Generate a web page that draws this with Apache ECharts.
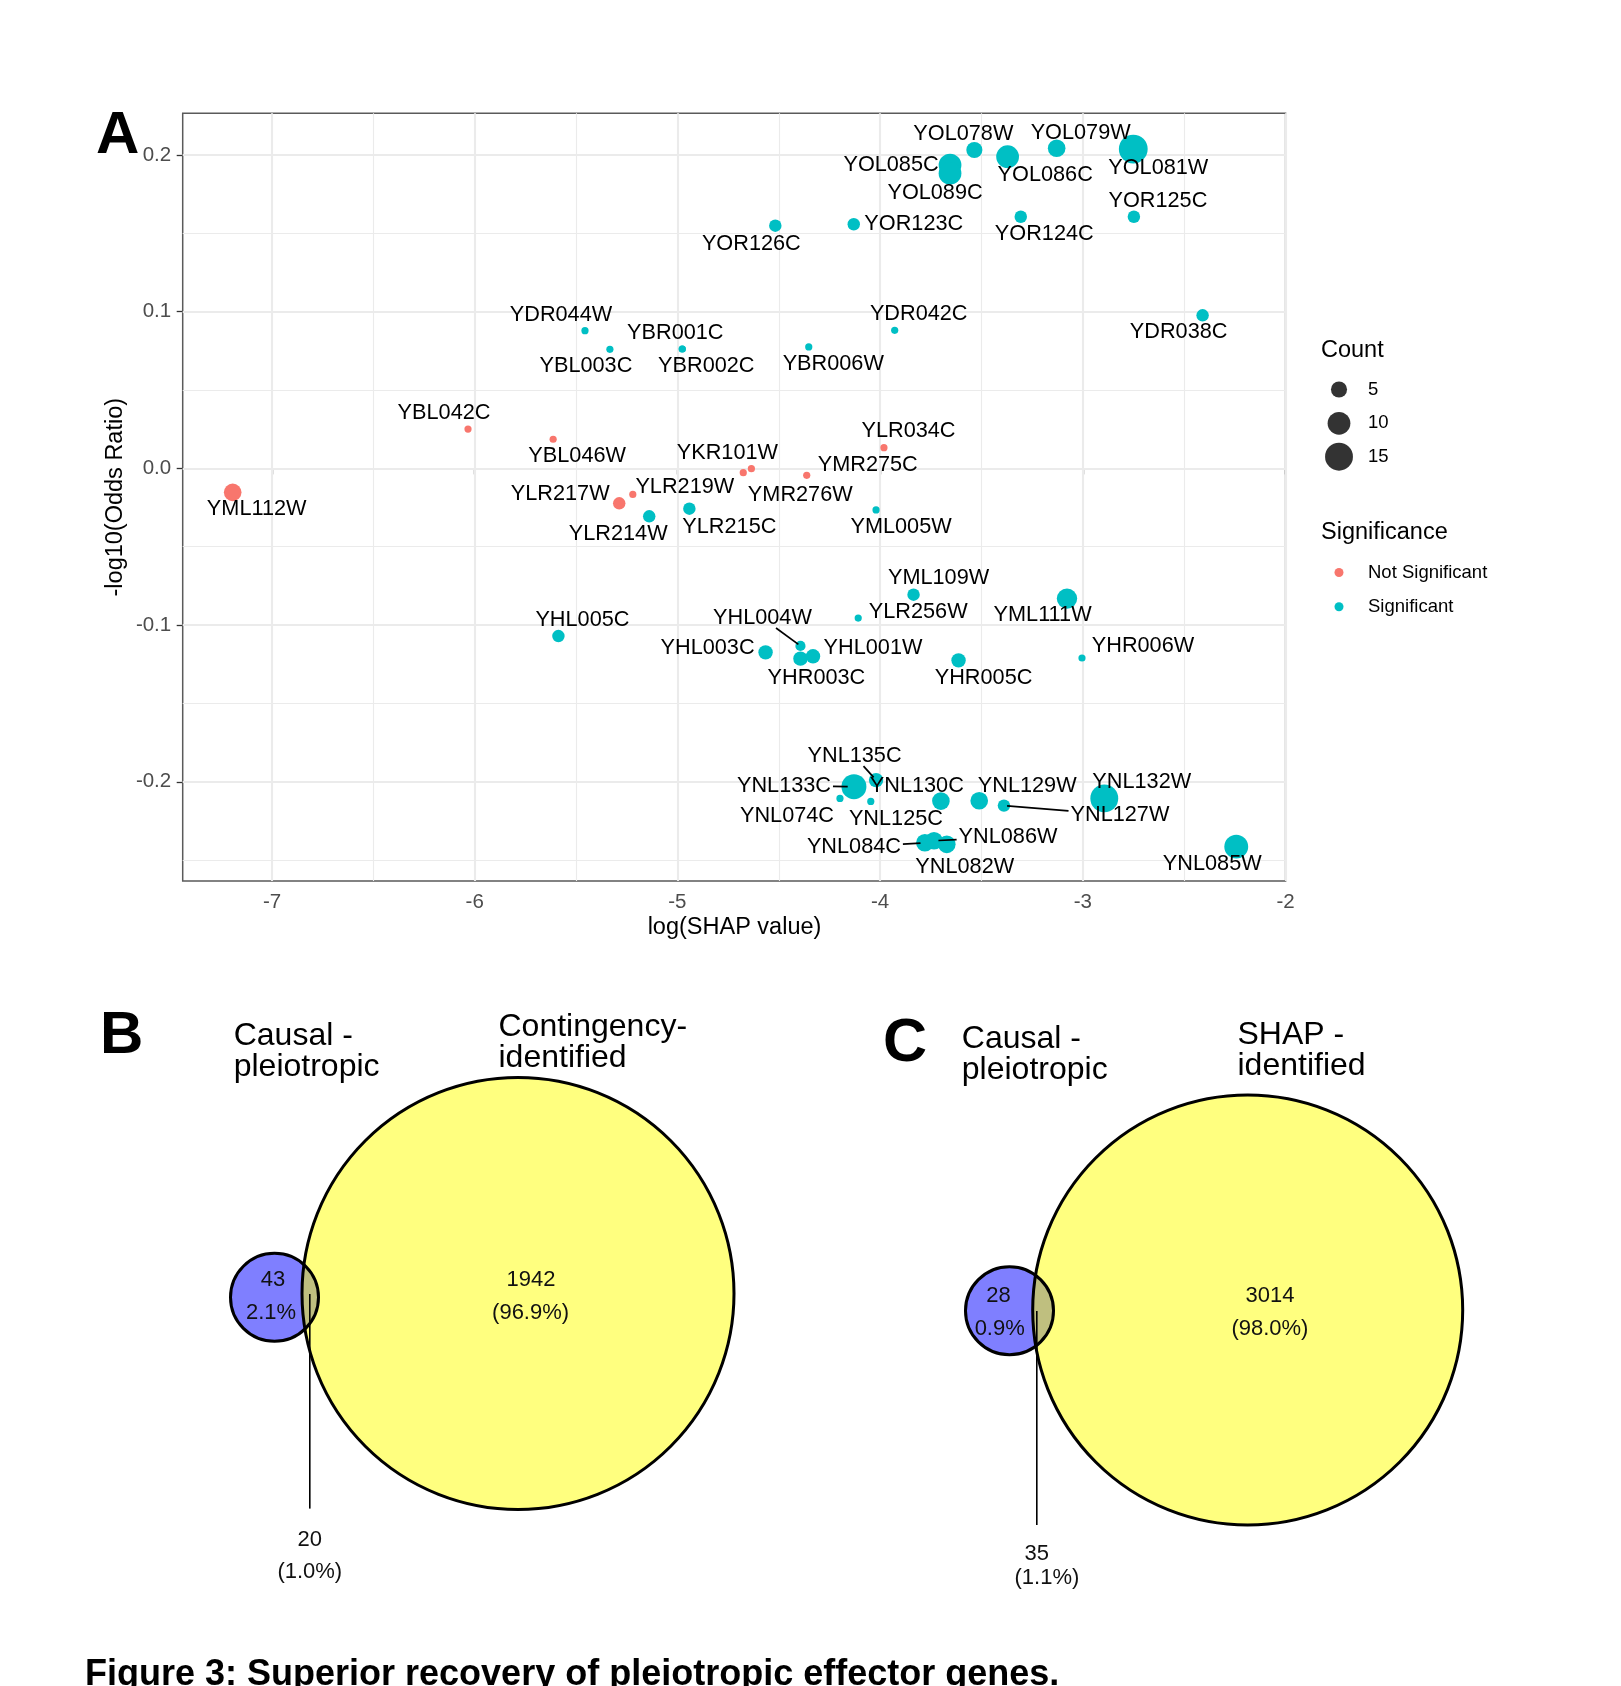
<!DOCTYPE html>
<html>
<head>
<meta charset="utf-8">
<script src="https://cdn.jsdelivr.net/npm/echarts@6/dist/echarts.min.js"></script>
<style>
html,body{margin:0;padding:0;background:#fff;}
#chart{width:1621px;height:1686px;}
</style>
</head>
<body>
<div id="chart"></div>
<script>
// ---------------- DATA ----------------
const genes = ['YML112W','YBL042C','YBL046W','YLR217W','YLR219W','YKR101W','YMR276W','YMR275C','YLR034C',
  'YDR044W','YBL003C','YBR001C','YBR002C','YBR006W','YDR042C','YDR038C',
  'YOR126C','YOR123C','YOL085C','YOL089C','YOL078W','YOL086C','YOL079W','YOL081W','YOR124C','YOR125C',
  'YLR214W','YLR215C','YML005W',
  'YHL005C','YHL003C','YHL004W','YHR003C','YHL001W','YHR005C','YHR006W','YML109W','YLR256W','YML111W',
  'YNL133C','YNL135C','YNL130C','YNL074C','YNL125C','YNL129W','YNL127W','YNL132W','YNL084C','YNL086W','YNL082W','YNL085W'];
const shapLog = [-7.194,-6.033,-5.613,-5.287,-5.220,-4.635,-4.675,-4.362,-3.981,
  -5.456,-5.333,-4.976,-4.976,-4.352,-3.928,-2.409,
  -4.517,-4.130,-3.655,-3.655,-3.535,-3.371,-3.129,-2.751,-3.306,-2.748,
  -5.139,-4.941,-4.020,
  -5.587,-4.565,-4.393,-4.393,-4.331,-3.613,-3.004,-3.835,-4.108,-3.078,
  -4.129,-4.020,-4.046,-4.198,-3.700,-3.511,-3.389,-2.894,-3.779,-3.734,-3.671,-2.243];
const negLog10OR = [-0.0153,0.0251,0.0186,-0.0223,-0.0166,-0.0002,-0.0027,-0.0044,0.0132,
  0.0879,0.0760,0.0762,0.0762,0.0775,0.0881,0.0977,
  0.1549,0.1558,0.1936,0.1883,0.2032,0.1989,0.2043,0.2038,0.1606,0.1606,
  -0.0306,-0.0257,-0.0265,
  -0.1070,-0.1174,-0.1133,-0.1214,-0.1199,-0.1225,-0.1210,-0.0806,-0.0955,-0.0831,
  -0.2031,-0.1989,-0.2125,-0.2106,-0.2123,-0.2121,-0.2152,-0.2106,-0.2389,-0.2376,-0.2399,-0.2414];
const counts = [6,1,1,3,1,1,1,1,1,
  1,1,1,1,1,1,3,
  3,3,10,10,5,10,6,16,3,3,
  3,3,1,
  3,4,2,4,4,4,1,3,1,8,
  12,4,1,1,6,6,3,15,6,6,6,11];
const significant = [0,0,0,0,0,0,0,0,0,
  1,1,1,1,1,1,1, 1,1,1,1,1,1,1,1,1,1, 1,1,1, 1,1,1,1,1,1,1,1,1,1,
  1,1,1,1,1,1,1,1,1,1,1,1];
const xTicks = [-7,-6,-5,-4,-3,-2];
const yTicks = [-0.2,-0.1,0,0.1,0.2];
const sizeBreaks = [5,10,15];
const sigLevels = ['Not Significant','Significant'];

const vennBSets = ['Causal -\npleiotropic','Contingency-\nidentified'];
const vennBCounts = [43, 20, 1942];          // left only, overlap, right only
const vennBPct = ['2.1%', '1.0%', '96.9%'];
const vennCSets = ['Causal -\npleiotropic','SHAP -\nidentified'];
const vennCCounts = [28, 35, 3014];
const vennCPct = ['0.9%', '1.1%', '98.0%'];

// ---------------- LAYOUT / STYLE ----------------
const FONT = '"Liberation Sans", Arial, Helvetica, sans-serif';
const LABEL_FONT = '21.7px ' + FONT;
const COLORS = {'Not Significant':'#F8766D','Significant':'#00BFC4'};
const sizeOf = c => 7.2 * Math.sqrt(c);

// label offsets (px) relative to point, ggrepel-like placement
const labelOffsets = {
  YML112W:[24,17], YBL042C:[-24,-16], YBL046W:[24,17], YLR217W:[-59,-9], YLR219W:[52,-7],
  YKR101W:[-24,-16], YMR276W:[57,22], YMR275C:[61,-10], YLR034C:[24.5,-16.4],
  YDR044W:[-24,-16], YBL003C:[-24,17], YBR001C:[-7,-16], YBR002C:[24,17], YBR006W:[24.5,17],
  YDR042C:[24,-16.5], YDR038C:[-24,17],
  YOR126C:[-24,18], YOR123C:[60,0], YOL085C:[-59,0], YOL089C:[-15,20], YOL078W:[-11,-16],
  YOL086C:[37.6,18.3], YOL079W:[24,-15.5], YOL081W:[25,18.5], YOR124C:[23.5,17.5], YOR125C:[24,-15.5],
  YLR214W:[-31,18], YLR215C:[40,18], YML005W:[25,17.5],
  YHL005C:[24,-16], YHL003C:[-58,-4], YHL004W:[-38,-28], YHR003C:[16,19.6], YHL001W:[60,-8],
  YHR005C:[25,18], YHR006W:[61,-12], YML109W:[25,-16.4], YLR256W:[60,-6], YML111W:[-24.4,16.6],
  YNL133C:[-70,-1], YNL135C:[-21.5,-24], YNL130C:[46,-15.5], YNL074C:[-53,17.5], YNL125C:[-45,18],
  YNL129W:[48,-15], YNL127W:[116,9.6], YNL132W:[37.5,-16], YNL084C:[-71,4.3], YNL086W:[74,-3.7],
  YNL082W:[18,23], YNL085W:[-24,17.5]
};
const segmentLabels = new Set(['YHL004W','YNL133C','YNL135C','YNL127W','YNL084C','YNL086W']);

// venn geometry in units of the big circle radius (centre of big circle = 0,0)
const vennLayout = {
  B: {small:[-1.1273,-0.0176,0.2037], big:[0,0,1], leader:[-0.9639,-0.0023,-0.9958],
      left:[-1.1343,0.0625,-1.1435,-0.0889], right:[0.0602,0.0625,0.0583,-0.0889], overlap:[-0.9639,-1.1412,-0.9639,-1.2884]},
  C: {small:[-1.1079,-0.0037,0.2047], big:[0,0,1], leader:[-0.9809,-0.0047,-0.9995],
      left:[-1.1591,0.0674,-1.1535,-0.0884], right:[0.1033,0.0674,0.1033,-0.0884], overlap:[-0.9809,-1.1326,-0.9340,-1.2465]}
};

// ---------------- BUILD ----------------
const mctx = document.createElement('canvas').getContext('2d');
function textW(t, font){ mctx.font = font; return mctx.measureText(t).width; }

const points = genes.map((g,i)=>({name:g, value:[shapLog[i], negLog10OR[i], counts[i]]}));

function scatterSeries(level){
  return {
    name: level, type:'scatter', xAxisIndex:0, yAxisIndex:0, z:3,
    data: points.filter((_,i)=> sigLevels[significant[i]] === level),
    symbol:'circle', symbolSize: v => sizeOf(v[2]),
    itemStyle:{color: COLORS[level], opacity:1},
    emphasis:{disabled:true}, silent:true
  };
}

const midpoints = arr => arr.slice(0,-1).map((v,i)=> (v+arr[i+1])/2);
const minorX = [xTicks[0]-0.5].concat(midpoints(xTicks));
const minorY = [yTicks[0]-0.05].concat(midpoints(yTicks)).concat([yTicks[yTicks.length-1]+0.05]);
const gridLines = []
  .concat(minorX.map(v=>({xAxis:v, lineStyle:{color:'#EBEBEB', width:1.1, type:'solid'}})))
  .concat(minorY.map(v=>({yAxis:v, lineStyle:{color:'#EBEBEB', width:1.1, type:'solid'}})))
  .concat(xTicks.map(v=>({xAxis:v, lineStyle:{color:'#EBEBEB', width:2.1, type:'solid'}})))
  .concat(yTicks.map(v=>({yAxis:v, lineStyle:{color:'#EBEBEB', width:2.1, type:'solid'}})));

const labelSeries = {
  type:'custom', xAxisIndex:0, yAxisIndex:0, z:10, silent:true, clip:false,
  data: genes.map((g,i)=>[shapLog[i], negLog10OR[i], counts[i], i]),
  encode:{x:0, y:1},
  renderItem:(params, api)=>{
    const i = api.value(3);
    const name = genes[i];
    const p = api.coord([api.value(0), api.value(1)]);
    const off = labelOffsets[name] || [0,-15];
    const lx = p[0]+off[0], ly = p[1]+off[1];
    const children = [];
    if (segmentLabels.has(name)) {
      const hw = textW(name, LABEL_FONT)/2 + 2, hh = 10;
      const dx = p[0]-lx, dy = p[1]-ly;
      const t = Math.min(Math.abs(dx) > 1e-6 ? hw/Math.abs(dx) : 1e9, Math.abs(dy) > 1e-6 ? hh/Math.abs(dy) : 1e9);
      const ex = lx + dx*t, ey = ly + dy*t;
      const len = Math.hypot(dx,dy);
      const r = sizeOf(api.value(2))/2*0.5;
      const sx = p[0] - dx/len*r, sy = p[1] - dy/len*r;
      children.push({type:'line', shape:{x1:sx,y1:sy,x2:ex,y2:ey}, style:{stroke:'#000', lineWidth:1.7}});
    }
    children.push({type:'text', style:{text:name, x:lx, y:ly, font:LABEL_FONT, fill:'#000',
      align:'center', verticalAlign:'middle', textAlign:'center', textVerticalAlign:'middle'}});
    return {type:'group', children};
  }
};

function vennSeries(idx, L, cnt, pct){
  return {
    type:'custom', xAxisIndex:idx, yAxisIndex:idx, silent:true, clip:false, z:2,
    data:[[0,0]],
    renderItem:(params, api)=>{
      const circ = (c, style) => {
        const p = api.coord([c[0], c[1]]);
        const r = api.size([c[2], 0])[0];
        return {type:'circle', shape:{cx:p[0], cy:p[1], r}, style};
      };
      const txt = (x, y, s) => {
        const p = api.coord([x, y]);
        return {type:'text', style:{text:s, x:p[0], y:p[1], font:'22px '+FONT, fill:'#111',
          align:'center', verticalAlign:'middle', textAlign:'center', textVerticalAlign:'middle'}};
      };
      const l1 = api.coord([L.leader[0], L.leader[1]]);
      const l2 = api.coord([L.leader[0], L.leader[2]]);
      return {type:'group', children:[
        circ(L.small, {fill:'rgba(0,0,255,0.5)'}),
        circ(L.big, {fill:'rgba(255,255,0,0.5)'}),
        circ(L.small, {fill:null, stroke:'#000', lineWidth:3}),
        circ(L.big, {fill:null, stroke:'#000', lineWidth:3}),
        {type:'line', shape:{x1:l1[0], y1:l1[1], x2:l2[0], y2:l2[1]}, style:{stroke:'#000', lineWidth:1.6}},
        txt(L.left[0], L.left[1], String(cnt[0])),
        txt(L.left[2], L.left[3], pct[0]),
        txt(L.right[0], L.right[1], String(cnt[2])),
        txt(L.right[2], L.right[3], '(' + pct[2] + ')'),
        txt(L.overlap[0], L.overlap[1], String(cnt[1])),
        txt(L.overlap[2], L.overlap[3], '(' + pct[1] + ')')
      ]};
    }
  };
}

function gText(x, y, text, font, extra){
  extra = extra || {};
  return {type:'text', x, y, rotation: extra.rotation || 0, silent:true, z:50,
    style:{text, x:0, y:0, font, fill: extra.fill || '#000',
      align: extra.align || 'left', verticalAlign:'middle',
      textAlign: extra.align || 'left', textVerticalAlign:'middle',
      lineHeight: extra.lineHeight}};
}

// legends: key centre x = 1339, label text starts at x = 1368
const KEY_X = 1339, LABEL_X = 1368, LEG_TEXT_H = 18.5;
function legendFor(names, d, centreY, extra){
  return Object.assign({
    data: names, padding:0, selectedMode:false, icon:'circle',
    itemWidth:d, itemHeight:d, left: KEY_X - d/2,
    top: centreY - Math.max(d, LEG_TEXT_H)/2,
    textStyle:{fontFamily:FONT, fontSize:18.5, color:'#000', padding:[0,0,0, LABEL_X - KEY_X - d/2 - 5]}
  }, extra || {});
}
const legendCenters = [389.3, 423.3, 456.7];
const legends = sizeBreaks.map((b,k)=> legendFor([String(b)], sizeOf(b), legendCenters[k]));
legends.push(legendFor(sigLevels, 9, 572.3, {orient:'vertical', itemGap:15.2}));

const hiddenAxis = (min, max, idx) => ({gridIndex:idx, type:'value', min, max, show:false,
  splitLine:{show:false}, axisLine:{show:false}, axisTick:{show:false}, axisLabel:{show:false}});

const option = {
  animation:false,
  backgroundColor:'#ffffff',
  grid:[
    {left:182.7, top:113.3, width:1102.9, height:767.7, show:true, backgroundColor:'#fff',
     borderColor:'#5a5a5a', borderWidth:1.5, containLabel:false, outerBoundsMode:'none'},
    {left:86, top:969.5, width:756, height:648, containLabel:false, outerBoundsMode:'none'},
    {left:817.7, top:987.5, width:752.5, height:645, containLabel:false, outerBoundsMode:'none'}
  ],
  xAxis:[
    {gridIndex:0, type:'value', min:-7.4406, max:-1.9995,
     splitLine:{show:false}, axisLine:{show:false},
     axisTick:{show:true, length:6, customValues:xTicks, lineStyle:{color:'#333', width:1.3}},
     axisLabel:{show:true, customValues:xTicks, margin:11, color:'#4D4D4D', fontSize:20.5, fontFamily:FONT,
       formatter: v => String(v)}},
    hiddenAxis(-2, 1.5, 1),
    hiddenAxis(-2, 1.5, 2)
  ],
  yAxis:[
    {gridIndex:0, type:'value', min:-0.2633, max:0.2266,
     splitLine:{show:false}, axisLine:{show:false},
     axisTick:{show:true, length:6, customValues:yTicks, lineStyle:{color:'#333', width:1.3}},
     axisLabel:{show:true, customValues:yTicks, margin:11.5, color:'#4D4D4D', fontSize:20.5, fontFamily:FONT,
       formatter: v => Number(v).toFixed(1)}},
    hiddenAxis(-1.5, 1.5, 1),
    hiddenAxis(-1.5, 1.5, 2)
  ],
  legend: legends,
  series:[
    {type:'line', name:'gridlines', xAxisIndex:0, yAxisIndex:0, data:[], silent:true, z:1,
     markLine:{silent:true, z:1, symbol:['none','none'], label:{show:false}, emphasis:{disabled:true},
       animation:false, data: gridLines}},
    scatterSeries('Not Significant'),
    scatterSeries('Significant'),
    ...sizeBreaks.map(b=>({name:String(b), type:'scatter', xAxisIndex:0, yAxisIndex:0, data:[],
      itemStyle:{color:'#000'}})),
    labelSeries,
    vennSeries(1, vennLayout.B, vennBCounts, vennBPct),
    vennSeries(2, vennLayout.C, vennCCounts, vennCPct)
  ],
  graphic:[
    gText(96, 136.5, 'A', 'bold 60px '+FONT),
    gText(100, 1036, 'B', 'bold 60px '+FONT),
    gText(883, 1044.5, 'C', 'bold 61px '+FONT),
    gText(734.5, 927.5, 'log(SHAP value)', '23.5px '+FONT, {align:'center'}),
    gText(115.5, 497.2, '-log10(Odds Ratio)', '23.5px '+FONT, {align:'center', rotation:Math.PI/2}),
    gText(1321, 350.5, 'Count', '23.5px '+FONT),
    gText(1321, 532.5, 'Significance', '23.5px '+FONT),
    gText(233.7, 1051.4, vennBSets[0], '32px '+FONT, {lineHeight:31.3}),
    gText(498.5, 1042.3, vennBSets[1], '32px '+FONT, {lineHeight:30.8}),
    gText(961.8, 1054.5, vennCSets[0], '32px '+FONT, {lineHeight:30.6}),
    gText(1237.5, 1050.9, vennCSets[1], '32px '+FONT, {lineHeight:31.3}),
    gText(85, 1675, 'Figure 3: Superior recovery of pleiotropic effector genes.', 'bold 36px '+FONT)
  ]
};

const chart = echarts.init(document.getElementById('chart'), null, {renderer:'canvas', width:1621, height:1686});
chart.setOption(option);
</script>
</body>
</html>
